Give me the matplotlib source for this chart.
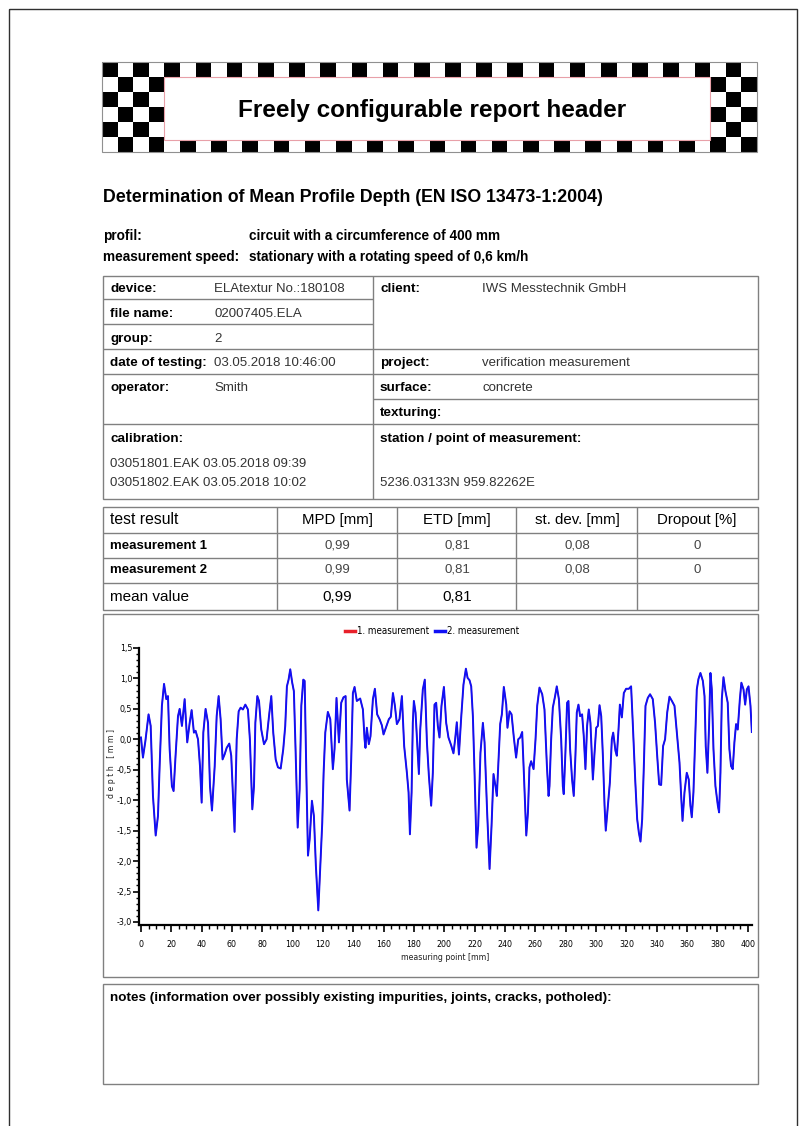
import matplotlib
matplotlib.use("Agg")
import matplotlib.pyplot as plt
from matplotlib.patches import Rectangle
from matplotlib.lines import Line2D
from matplotlib.ticker import MultipleLocator, FuncFormatter

plt.rcParams['font.family'] = ['Liberation Sans', 'DejaVu Sans']
NARROW = {'family': 'DejaVu Sans', 'stretch': 'condensed'}

# profile (measuring point [mm], depth [mm])
position_mm = [
    0.0, 1.3, 2.9, 5.0, 6.4, 7.9, 9.7, 11.2, 12.3, 13.8, 15.2, 16.7, 17.8, 18.9,
    20.4, 21.5, 22.8, 24.4, 25.5, 27.0, 28.8, 30.5, 32.1, 33.4, 34.9, 36.0, 37.6,
    38.9, 40.0, 41.1, 42.6, 44.2, 45.5, 46.8, 48.6, 49.9, 51.2, 52.5, 53.8, 55.1,
    56.5, 58.2, 59.5, 60.9, 61.7, 63.1, 64.4, 65.7, 67.2, 68.8, 70.5, 71.8, 73.4,
    74.5, 75.4, 76.7, 77.8, 79.3, 81.1, 82.8, 84.4, 85.9, 87.2, 88.8, 90.3, 92.1,
    93.8, 95.1, 96.2, 97.3, 98.4, 99.7, 100.8, 101.9, 103.3, 104.6, 105.7, 107.0,
    107.9, 109.0, 110.1, 111.2, 112.7, 114.0, 115.3, 116.9, 118.2, 119.5, 120.4,
    121.5, 123.2, 124.8, 126.5, 127.6, 128.9, 130.5, 132.0, 133.5, 134.9, 135.7,
    137.5, 138.6, 139.7, 140.8, 142.3, 144.5, 146.3, 147.4, 148.0, 148.9, 150.2,
    151.3, 152.9, 154.2, 155.7, 157.3, 158.8, 159.9, 161.7, 163.4, 164.7, 166.1,
    167.4, 168.7, 170.4, 172.0, 173.5, 175.3, 176.4, 177.3, 178.4, 179.2, 179.9,
    181.0, 182.5, 183.2, 184.1, 185.8, 187.1, 188.5, 189.8, 191.3, 192.4, 193.5,
    194.6, 195.7, 196.8, 198.1, 199.7, 201.2, 202.7, 204.5, 206.0, 207.1, 208.2,
    209.6, 211.1, 212.6, 214.2, 215.3, 216.6, 217.7, 218.8, 219.9, 221.2, 222.3,
    223.8, 225.4, 226.5, 228.2, 229.8, 231.1, 232.4, 233.7, 234.6, 235.7, 236.8,
    237.9, 239.2, 240.8, 241.6, 243.0, 244.3, 245.8, 247.3, 248.7, 250.0, 251.3,
    252.4, 254.0, 255.1, 256.1, 257.2, 258.8, 260.1, 261.2, 262.7, 264.5, 266.0,
    267.6, 268.7, 269.3, 270.4, 271.5, 273.0, 274.1, 275.5, 277.0, 278.1, 278.7,
    279.8, 280.9, 281.8, 282.9, 284.2, 285.3, 286.4, 287.3, 288.4, 289.5, 290.8,
    291.9, 293.0, 294.1, 295.2, 296.3, 297.9, 299.0, 300.1, 301.2, 302.3, 303.4,
    304.5, 305.6, 306.4, 307.7, 309.1, 310.4, 311.3, 312.8, 313.7, 314.8, 315.7,
    317.0, 318.3, 319.8, 321.6, 323.1, 324.2, 325.8, 327.1, 328.2, 329.3, 330.4,
    331.5, 332.6, 334.1, 335.6, 337.4, 338.9, 340.3, 341.6, 342.9, 344.2, 345.5,
    346.9, 348.4, 350.0, 351.7, 353.5, 355.0, 356.1, 357.0, 358.3, 359.8, 361.1,
    362.2, 363.1, 364.2, 365.3, 366.4, 367.5, 368.8, 370.4, 371.5, 372.3, 373.4,
    374.5, 375.4, 376.3, 377.4, 378.7, 380.3, 381.1, 382.0, 382.9, 384.0, 385.3,
    386.8, 387.9, 389.0, 390.1, 391.2, 392.3, 393.4, 394.8, 395.8, 397.2, 398.3,
    399.4, 400.5, 401.8, 402.7]
depth_mm = [
    0.03, -0.30, -0.03, 0.41, 0.22, -0.93, -1.58, -1.26, -0.44, 0.55, 0.91, 0.66,
    0.71, -0.16, -0.77, -0.85, -0.27, 0.38, 0.50, 0.22, 0.66, -0.05, 0.27, 0.48,
    0.11, 0.14, 0.0, -0.44, -1.04, 0.11, 0.50, 0.27, -0.77, -1.17, -0.44, 0.38,
    0.71, 0.33, -0.33, -0.25, -0.14, -0.07, -0.27, -1.04, -1.52, 0.0, 0.46, 0.52,
    0.49, 0.57, 0.49, 0.0, -1.15, -0.77, 0.27, 0.71, 0.63, 0.16, -0.08, 0.0, 0.38,
    0.71, 0.11, -0.33, -0.46, -0.48, -0.16, 0.22, 0.87, 0.98, 1.15, 0.93, 0.79,
    -0.16, -1.45, -0.82, 0.55, 0.98, 0.96, -0.55, -1.91, -1.64, -1.01, -1.26,
    -2.08, -2.81, -2.08, -1.37, -0.55, 0.11, 0.45, 0.33, -0.49, -0.16, 0.68, -0.05,
    0.60, 0.69, 0.71, -0.66, -1.17, -0.33, 0.76, 0.86, 0.63, 0.67, 0.49, 0.0,
    -0.14, 0.19, -0.08, 0.05, 0.66, 0.83, 0.41, 0.33, 0.23, 0.08, 0.21, 0.33, 0.37,
    0.76, 0.55, 0.25, 0.33, 0.71, -0.11, -0.55, -0.87, -1.56, -0.87, 0.27, 0.63,
    0.44, -0.27, -0.57, 0.16, 0.82, 0.98, -0.05, -0.60, -1.09, -0.55, 0.57, 0.60,
    0.22, 0.03, 0.55, 0.86, 0.27, 0.03, -0.10, -0.23, 0.0, 0.28, -0.25, 0.36, 0.90,
    1.16, 1.01, 0.97, 0.87, 0.38, -0.55, -1.78, -1.42, -0.22, 0.27, -0.05, -1.20,
    -2.13, -1.42, -0.57, -0.77, -0.93, -0.33, 0.25, 0.41, 0.86, 0.57, 0.19, 0.46,
    0.41, 0.03, -0.30, 0.0, 0.03, 0.12, -0.55, -1.58, -1.20, -0.46, -0.36, -0.49,
    0.0, 0.55, 0.85, 0.74, 0.49, -0.44, -0.93, -0.77, 0.0, 0.52, 0.71, 0.87, 0.66,
    0.0, -0.77, -0.90, -0.22, 0.60, 0.63, -0.16, -0.66, -0.93, -0.27, 0.44, 0.57,
    0.38, 0.41, 0.05, -0.49, 0.22, 0.49, 0.27, -0.66, -0.22, 0.19, 0.22, 0.56, 0.38,
    -0.27, -1.09, -1.50, -1.12, -0.71, 0.0, 0.11, -0.19, -0.27, 0.16, 0.57, 0.36,
    0.76, 0.83, 0.83, 0.87, 0.27, -0.66, -1.31, -1.53, -1.68, -1.31, -0.44, 0.55,
    0.68, 0.74, 0.66, 0.27, -0.27, -0.74, -0.75, -0.11, 0.0, 0.44, 0.70, 0.63, 0.55,
    0.05, -0.38, -0.93, -1.34, -0.87, -0.55, -0.66, -1.09, -1.28, -0.87, 0.0, 0.82,
    0.99, 1.09, 0.96, 0.71, -0.11, -0.55, 0.22, 1.09, 0.82, -0.16, -0.77, -1.09,
    -1.20, -0.55, 0.66, 1.02, 0.79, 0.60, -0.16, -0.44, -0.49, -0.05, 0.25, 0.16,
    0.66, 0.93, 0.82, 0.57, 0.82, 0.87, 0.55, 0.12]
# measurement 1 lies exactly under measurement 2 in the report
depth_meas1 = list(depth_mm)

header_text = "Freely configurable report header"
title = "Determination of Mean Profile Depth (EN ISO 13473-1:2004)"
meta = [("profil:", "circuit with a circumference of 400 mm"),
        ("measurement speed:", "stationary with a rotating speed of 0,6 km/h")]
info_left = [("device:", "ELAtextur No.:180108", 289),
             ("file name:", "02007405.ELA", 314),
             ("group:", "2", 339),
             ("date of testing:", "03.05.2018 10:46:00", 363),
             ("operator:", "Smith", 388)]
info_right = [("client:", "IWS Messtechnik GmbH", 289),
              ("project:", "verification measurement", 363),
              ("surface:", "concrete", 388),
              ("texturing:", "", 413)]
calibration = ["03051801.EAK 03.05.2018 09:39", "03051802.EAK 03.05.2018 10:02"]
station = "5236.03133N 959.82262E"

result_cols = ["test result", "MPD [mm]", "ETD [mm]", "st. dev. [mm]", "Dropout [%]"]
result_rows = [("measurement 1", ["0,99", "0,81", "0,08", "0"]),
               ("measurement 2", ["0,99", "0,81", "0,08", "0"])]
mean_row = ("mean value", ["0,99", "0,81", "", ""])
notes = "notes (information over possibly existing impurities, joints, cracks, potholed):"

W, H = 805, 1126
fig = plt.figure(figsize=(W / 100, H / 100), dpi=100)
pg = fig.add_axes([0, 0, 1, 1])
pg.set_xlim(0, W)
pg.set_ylim(H, 0)
pg.axis('off')

GRID = '#808080'
BLUE = '#1010f5'
RED = '#e8202a'

def hline(y, x0, x1, c=GRID, lw=1.0):
    pg.plot([x0, x1], [y, y], color=c, lw=lw, solid_capstyle='butt')

def vline(x, y0, y1, c=GRID, lw=1.0):
    pg.plot([x, x], [y0, y1], color=c, lw=lw, solid_capstyle='butt')

# page border
pg.add_patch(Rectangle((9, 9), 788, 1130, fill=False, ec='#303030', lw=1.0))

# checkered header
bx0, bx1, by0, by1 = 102, 757, 62, 152
ncol, nrow = 42, 6
sw, sh = (bx1 - bx0) / ncol, (by1 - by0) / nrow
for r in range(nrow):
    for c in range(ncol):
        if (r + c) % 2 == 0:
            pg.add_patch(Rectangle((bx0 + c * sw, by0 + r * sh), sw, sh,
                                   fc='black', ec='none'))
pg.add_patch(Rectangle((bx0, by0), bx1 - bx0, by1 - by0, fill=False, ec='#909090', lw=0.8))
pg.add_patch(Rectangle((bx0 + 4 * sw, 77), 35 * sw, 63, fc='white', ec='#e8a0a8', lw=0.8))
pg.text(432, 110, header_text, fontsize=17.5, fontweight='bold', ha='center', va='center')

pg.text(103, 198, title, fontsize=12.8, fontweight='bold', ha='left', va='center')
for (lab, val), y in zip(meta, [236, 257]):
    pg.text(103, y, lab, fontsize=9.8, fontweight='bold', va='center')
    pg.text(249, y, val, fontsize=9.8, fontweight='bold', va='center')

# info table
L, M, R = 103, 373, 758
top, bot = 276, 499
pg.add_patch(Rectangle((L, top), R - L, bot - top, fill=False, ec=GRID, lw=1.0))
vline(M, top, bot)
for y in [299, 324, 349]:
    hline(y, L, M)
hline(374, L, R)
hline(399, M, R)
hline(424, L, R)
hline(349, M, R)
for lab, val, y in info_left:
    pg.text(110, y, lab, fontsize=9.7, fontweight='bold', va='center')
    pg.text(214, y, val, fontsize=9.5, color='#333333', va='center')
for lab, val, y in info_right:
    pg.text(380, y, lab, fontsize=9.7, fontweight='bold', va='center')
    pg.text(482, y, val, fontsize=9.5, color='#333333', va='center')
pg.text(110, 439, "calibration:", fontsize=9.7, fontweight='bold', va='center')
pg.text(380, 439, "station / point of measurement:", fontsize=9.7, fontweight='bold', va='center')
pg.text(110, 464, calibration[0], fontsize=9.5, color='#333333', va='center')
pg.text(110, 483, calibration[1], fontsize=9.5, color='#333333', va='center')
pg.text(380, 483, station, fontsize=9.5, color='#333333', va='center')

# result table
rt, rb = 507, 610
pg.add_patch(Rectangle((L, rt), R - L, rb - rt, fill=False, ec=GRID, lw=1.0))
for x in [277, 397, 516, 637]:
    vline(x, rt, rb)
for y in [533, 558, 583]:
    hline(y, L, R)
col_cx = [337, 457, 577, 697]
pg.text(110, 520, result_cols[0], fontsize=11.3, va='center')
for cx, name in zip(col_cx, result_cols[1:]):
    pg.text(cx, 520, name, fontsize=10.8, ha='center', va='center')
for (lab, vals), y in zip(result_rows, [546, 570]):
    pg.text(110, y, lab, fontsize=9.5, fontweight='bold', va='center')
    for cx, v in zip(col_cx, vals):
        pg.text(cx, y, v, fontsize=9.5, color='#444444', ha='center', va='center')
pg.text(110, 597, mean_row[0], fontsize=11, va='center')
for cx, v in zip(col_cx, mean_row[1]):
    pg.text(cx, 597, v, fontsize=11, ha='center', va='center')

# chart box and notes box
pg.add_patch(Rectangle((L, 614), R - L, 363, fill=False, ec=GRID, lw=1.0))
pg.add_patch(Rectangle((L, 984), R - L, 100, fill=False, ec=GRID, lw=1.0))
pg.text(110, 998, notes, fontsize=9.7, fontweight='bold', va='center')

# profile chart
ax = fig.add_axes([139 / W, 1 - 925 / H, (752 - 139) / W, (925 - 648) / H])
ax.patch.set_alpha(0)
ax.plot(position_mm, depth_meas1, color=RED, lw=0.9, label='1. measurement')
ax.plot(position_mm, depth_mm, color=BLUE, lw=1.4, label='2. measurement')
ax.set_xlim(-1.3, 402.8)
ax.set_ylim(-3.05, 1.5)
for s in ['top', 'right']:
    ax.spines[s].set_visible(False)
for s in ['left', 'bottom']:
    ax.spines[s].set_linewidth(1.6)
ax.xaxis.set_major_locator(MultipleLocator(20))
ax.xaxis.set_minor_locator(MultipleLocator(5))
ax.yaxis.set_major_locator(MultipleLocator(0.5))
ax.yaxis.set_minor_locator(MultipleLocator(0.1))
ax.tick_params(axis='x', which='major', length=5, width=1.2, pad=6, labelsize=6.3)
ax.tick_params(axis='x', which='minor', length=3, width=1.0)
ax.tick_params(axis='y', which='major', length=4, width=1.2, pad=1, labelsize=6.3)
ax.tick_params(axis='y', which='minor', length=2, width=1.0)
ax.xaxis.set_major_formatter(FuncFormatter(lambda v, p: f"{v:.0f}"))
ax.yaxis.set_major_formatter(FuncFormatter(lambda v, p: f"{v:.1f}".replace('.', ',')))
for t in ax.get_xticklabels() + ax.get_yticklabels():
    t.set_fontfamily(NARROW['family'])
    t.set_fontstretch(NARROW['stretch'])
pg.text(111, 763, "d e p t h   [ m m ]", rotation=90, fontsize=6.2, fontfamily='DejaVu Sans',
        fontstretch='condensed', ha='center', va='center', color='#222222')
pg.text(445, 957, "measuring point [mm]", fontsize=6.3, fontfamily='DejaVu Sans',
        fontstretch='condensed', ha='center', va='center', color='#222222')

handles = [Line2D([], [], color=RED, lw=2.5), Line2D([], [], color=BLUE, lw=2.5)]
fig.legend(handles, ['1. measurement', '2. measurement'], loc='center',
           bbox_to_anchor=(432 / W, 1 - 631 / H), ncol=2, frameon=False,
           handlelength=1.0, handletextpad=0.2, columnspacing=0.6,
           prop={'family': 'DejaVu Sans', 'stretch': 'condensed', 'size': 7})

fig.savefig('out.png', dpi=100)
